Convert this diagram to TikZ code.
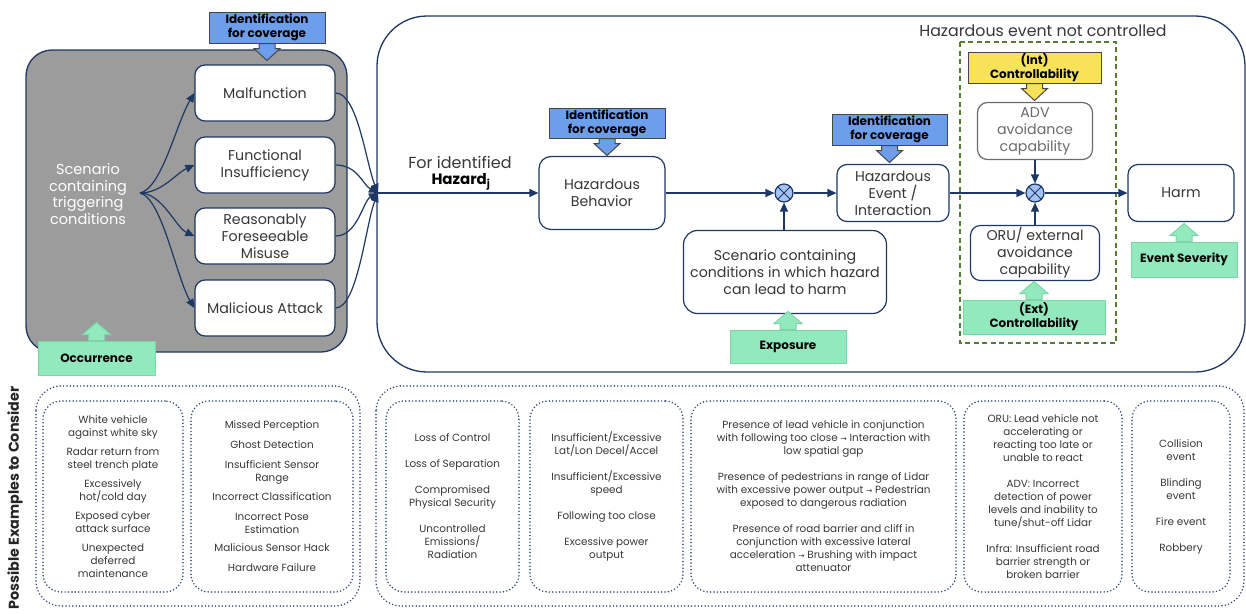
\documentclass[tikz,border=0pt]{standalone}
\usepackage{fontspec}
\setmainfont{Poppins}
\newfontfamily\symfont{DejaVu Sans}
\usetikzlibrary{positioning,calc,arrows.meta}

\definecolor{navyc}{RGB}{30,55,100}
\definecolor{boxgray}{RGB}{156,156,156}
\definecolor{idblue}{RGB}{109,158,235}
\definecolor{darkgrey}{RGB}{70,70,70}
\definecolor{mint}{RGB}{147,233,190}
\definecolor{mintedge}{RGB}{120,215,165}
\definecolor{ctlyellow}{RGB}{248,226,90}
\definecolor{multfill}{RGB}{164,194,244}
\definecolor{txtc}{RGB}{55,55,55}
\definecolor{dashgreen}{RGB}{85,125,50}
\definecolor{dotc}{RGB}{45,70,120}

\newcommand\rarr{{\symfont\fontsize{7.5}{7.5}\selectfont →}}

\tikzset{
  flowbox/.style={draw=navyc, line width=1.2pt, rounded corners=10pt, fill=white,
    align=center, text=txtc, font=\fontsize{14.2}{17}\selectfont, inner sep=2pt},
  labelbox/.style={line width=1pt, align=center, inner sep=0pt,
    font=\bfseries\fontsize{12}{14}\selectfont},
  idbox/.style={labelbox, draw=darkgrey, fill=idblue},
  ctlbox/.style={labelbox, draw=darkgrey, fill=ctlyellow},
  greenbox/.style={labelbox, draw=mintedge, fill=mint},
  flow/.style={navyc, line width=1.2pt, -{Triangle[length=9pt,width=8pt]}},
  mult/.style={circle, draw=navyc, line width=1.2pt, fill=multfill, minimum size=18pt,
    inner sep=0pt, path picture={
      \draw[navyc, line width=1pt] (path picture bounding box.north west) -- (path picture bounding box.south east)
        (path picture bounding box.north east) -- (path picture bounding box.south west);}},
  dots/.style={draw=dotc, line width=1.7pt, dash pattern=on 0pt off 3.4pt, line cap=round},
  examplebox/.style={dots, rounded corners=18pt, align=center, text=txtc,
    font=\fontsize{10.4}{13}\selectfont, minimum height=191, inner sep=0pt}
}

\begin{document}
\begin{tikzpicture}[x=1pt,y=-1pt]
\useasboundingbox (0,0) rectangle (1246,613);

% occurrence part
\draw[navyc, line width=1.3pt, fill=boxgray, rounded corners=26pt] (26,50) rectangle (347,352);
\node[text=white, align=center, font=\fontsize{14.5}{16.7}\selectfont] (trig) at (88,194)
  {Scenario\\containing\\triggering\\conditions};
\node[flowbox, minimum width=140, minimum height=56] (mal) at (265,93) {Malfunction};
\node[flowbox, minimum width=140, minimum height=56] (fins) at (265,165) {Functional\\Insufficiency};
\node[flowbox, minimum width=140, minimum height=56] (misuse) at (265,236) {Reasonably\\Foreseeable\\Misuse};
\node[flowbox, minimum width=140, minimum height=56] (attack) at (265,308) {Malicious Attack};

\coordinate (fan) at (140,193);
\coordinate (conv) at (378,193);
\draw[flow] (fan) .. controls +(22,-5) and +(-18,30) .. (mal.west);
\draw[flow] (fan) .. controls +(22,0) and +(-18,8) .. (fins.west);
\draw[flow] (fan) .. controls +(22,0) and +(-18,-8) .. (misuse.west);
\draw[flow] (fan) .. controls +(22,5) and +(-18,-30) .. (attack.west);
\draw[flow] (mal.east) .. controls +(22,0) and +(-12,-30) .. (conv);
\draw[flow] (fins.east) .. controls +(22,0) and +(-15,-8) .. (conv);
\draw[flow] (misuse.east) .. controls +(22,0) and +(-15,8) .. (conv);
\draw[flow] (attack.east) .. controls +(22,0) and +(-12,30) .. (conv);

% hazard part
\draw[navyc, line width=1.3pt, rounded corners=50pt] (377,16) rectangle (1245,372);
\node[font=\fontsize{16}{18}\selectfont, text=txtc] (forid) at (460,162) {For identified};
\node[font=\bfseries\fontsize{15}{17}\selectfont] (hazj) at (461,182) {Hazard\textsubscript{j}};

\node[flowbox, minimum width=126, minimum height=73, rounded corners=12pt] (hb) at (602,193) {Hazardous\\Behavior};
\node[mult] (mulA) at (784,193) {};
\node[flowbox, minimum width=203, minimum height=83, rounded corners=14pt] (scen) at (785,272)
  {Scenario containing\\conditions in which hazard\\can lead to harm};
\node[flowbox, minimum width=112, minimum height=57] (he) at (893,193) {Hazardous\\Event /\\Interaction};

\node[font=\fontsize{15.8}{18}\selectfont, text=txtc] (notctl) at (1043,31) {Hazardous event not controlled};
\draw[dashgreen, line width=1.1pt, dash pattern=on 5pt off 3.5pt] (960,42) rectangle (1116,343);
\node[flowbox, draw=darkgrey!80, text=darkgrey!80, minimum width=115, minimum height=57] (adv) at (1035,131)
  {ADV\\avoidance\\capability};
\node[mult] (mulB) at (1035,193) {};
\node[flowbox, minimum width=129, minimum height=52] (oru) at (1035,253) {ORU/ external\\avoidance\\capability};
\node[flowbox, minimum width=106, minimum height=57] (harm) at (1181,193) {Harm};

\draw[flow] (conv) -- (hb.west);
\draw[flow] (hb.east) -- (mulA.west);
\draw[flow] (mulA.south |- scen.north) -- (mulA.south);
\draw[flow] (mulA.east) -- (he.west);
\draw[flow] (he.east) -- (mulB.west);
\draw[flow] (adv.south) -- (mulB.north);
\draw[flow] (oru.north) -- (mulB.south);
\draw[flow] (mulB.east) -- (harm.west);

% labels with block arrows
\node[idbox, minimum width=116, minimum height=31] (idA) at (267,27.5) {Identification\\for coverage};
\node[idbox, minimum width=116, minimum height=30] (idB) at (607,123) {Identification\\for coverage};
\node[idbox, minimum width=115, minimum height=31] (idC) at (889.5,129.5) {Identification\\for coverage};
\node[ctlbox, minimum width=133, minimum height=31] (intC) at (1034.5,67.5) {(Int)\\Controllability};
\node[greenbox, minimum width=117, minimum height=34] (occ) at (96.5,358) {Occurrence};
\node[greenbox, minimum width=116, minimum height=33] (expo) at (788,346.5) {Exposure};
\node[greenbox, minimum width=142, minimum height=34] (extC) at (1034,317) {(Ext)\\Controllability};
\node[greenbox, minimum width=106, minimum height=35] (sev) at (1184,259.5) {Event Severity};

\foreach \n/\c in {idA/idblue, idB/idblue, idC/idblue, intC/ctlyellow}
  \draw[line width=1pt, draw=darkgrey, fill=\c] ($(\n.south)+(-8,0)$) -- ++(0,5) -- ++(-5,0)
    -- ($(\n.south)+(0,17)$) -- ($(\n.south)+(13,5)$) -- ++(-5,0) -- ++(0,-5) -- cycle;
\foreach \n in {occ, expo, extC, sev}
  \draw[line width=1pt, draw=mintedge, fill=mint] ($(\n.north)+(-8,0)$) -- ++(0,-6) -- ++(-6,0)
    -- ($(\n.north)+(0,-18)$) -- ($(\n.north)+(14,-6)$) -- ++(-6,0) -- ++(0,6) -- cycle;

% examples
\node[rotate=90, font=\bfseries\fontsize{14.3}{15}\selectfont, text=black!85] (possible) at (15,498)
  {Possible Examples to Consider};
\draw[dots, rounded corners=25pt] (36,386) rectangle (360,606);
\draw[dots, rounded corners=25pt] (376,386) rectangle (1244,606);

\node[examplebox, minimum width=140] (ex1) at (113,496.5)
  {White vehicle\\against white sky\\[6pt] Radar return from\\steel trench plate\\[6pt]
   Excessively\\hot/cold day\\[6pt] Exposed cyber\\attack surface\\[6pt] Unexpected\\deferred\\maintenance};
\node[examplebox, minimum width=162] (ex2) at (272,496.5)
  {Missed Perception\\[7pt] Ghost Detection\\[7pt] Insufficient Sensor\\Range\\[6pt]
   Incorrect Classification\\[7pt] Incorrect Pose\\Estimation\\[5pt] Malicious Sensor Hack\\[7pt] Hardware Failure};
\node[examplebox, minimum width=133] (ex3) at (452.5,496.5)
  {Loss of Control\\[13pt] Loss of Separation\\[13pt] Compromised\\Physical Security\\[13pt]
   Uncontrolled\\Emissions/\\Radiation};
\node[examplebox, minimum width=153] (ex4) at (606.5,496.5)
  {Insufficient/Excessive\\Lat/Lon Decel/Accel\\[13pt] Insufficient/Excessive\\speed\\[13pt]
   Following too close\\[13pt] Excessive power\\output};
\node[examplebox, minimum width=265] (ex5) at (823.5,496.5)
  {Presence of lead vehicle in conjunction\\with following too close \rarr{} Interaction with\\low spatial gap\\[13pt]
   Presence of pedestrians in range of Lidar\\with excessive power output \rarr{} Pedestrian\\exposed to dangerous radiation\\[13pt]
   Presence of road barrier and cliff in\\conjunction with excessive lateral\\acceleration \rarr{} Brushing with impact\\attenuator};
\node[examplebox, minimum width=158] (ex6) at (1043,496.5)
  {ORU: Lead vehicle not\\accelerating or\\reacting too late or\\unable to react\\[13pt]
   ADV: Incorrect\\detection of power\\levels and inability to\\tune/shut-off Lidar\\[13pt]
   Infra: Insufficient road\\barrier strength or\\broken barrier};
\node[examplebox, minimum width=98] (ex7) at (1181,496.5)
  {Collision\\event\\[13pt] Blinding\\event\\[13pt] Fire event\\[13pt] Robbery};
\end{tikzpicture}
\end{document}
